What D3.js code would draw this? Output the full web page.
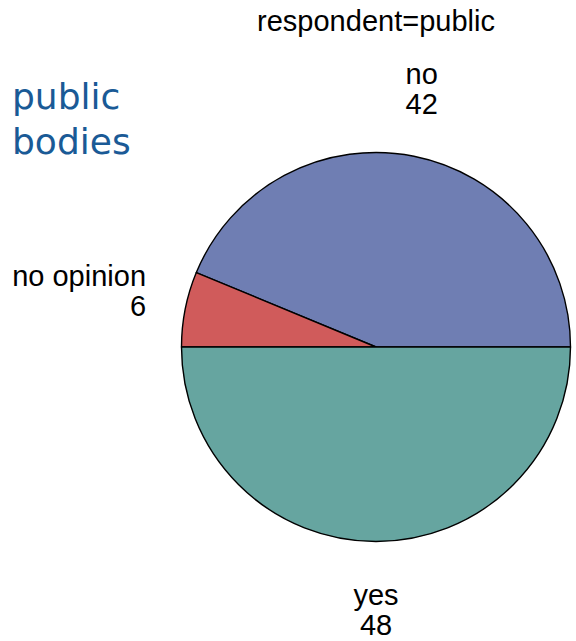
<!DOCTYPE html>
<html lang="en">
<head>
    <meta charset="UTF-8">
    <title>respondent=public</title>
    <script src="https://d3js.org/d3.v7.min.js"></script>
    <style>
        body { margin: 0; background: #fff; }
        svg { display: block; }
        text { font-family: "Liberation Sans", Arial, sans-serif; fill: #000; }
    </style>
</head>
<body>
<svg width="576" height="641"></svg>
<script>
    // chart data
    const categories = ["no", "no opinion", "yes"];
    const counts = [42, 6, 48];
    const sliceColors = ["#6F7EB3", "#D05B5B", "#66A5A0"];
    const titleText = "respondent=public";
    const sideLabel = ["public", "bodies"];

    let svg = d3.select("svg");
    let cx = 376, cy = 347, radius = 194.5;

    // SAS starts at 3 o'clock and goes counter-clockwise
    let pie = d3.pie()
        .sort(null)
        .startAngle(Math.PI / 2)
        .endAngle(Math.PI / 2 - 2 * Math.PI);

    let arcs = pie(counts).map(function (d, i) {
        d.category = categories[i];
        return d;
    });

    let arc = d3.arc().innerRadius(0).outerRadius(radius);
    let labelArc = d3.arc().innerRadius(radius + 40).outerRadius(radius + 40);

    let g = svg.append("g").attr("transform", "translate(" + cx + "," + cy + ")");

    g.selectAll("path")
        .data(arcs)
        .enter()
        .append("path")
        .attr("d", arc)
        .attr("fill", function (d, i) { return sliceColors[i]; })
        .attr("stroke", "#000")
        .attr("stroke-width", 1.4)
        .attr("stroke-linejoin", "round");

    // slice labels: name on first line, count below
    let lineH = 30;
    let labels = g.selectAll("g.lbl")
        .data(arcs)
        .enter()
        .append("g")
        .attr("class", "lbl");

    labels.each(function (d) {
        let p = labelArc.centroid(d);
        let mid = (d.startAngle + d.endAngle) / 2;
        let sx = Math.sin(mid), sy = -Math.cos(mid);
        let anchor = "middle", x = p[0], firstBase;
        if (Math.abs(sx) > 0.7) {
            anchor = sx < 0 ? "end" : "start";
            firstBase = p[1] - 15;
        } else if (sy < 0) {
            firstBase = p[1] - 3 - lineH;
        } else {
            firstBase = p[1] + 23;
        }
        let t = d3.select(this).append("text")
            .attr("text-anchor", anchor)
            .style("font-size", "29px");
        t.append("tspan").attr("x", x).attr("y", firstBase).text(d.category);
        t.append("tspan").attr("x", x).attr("y", firstBase + lineH).text(d.data);
    });

    svg.append("text")
        .attr("x", cx)
        .attr("y", 31)
        .attr("text-anchor", "middle")
        .style("font-size", "29px")
        .text(titleText);

    svg.append("text")
        .style("font-family", "'DejaVu Sans', Verdana, sans-serif")
        .style("font-size", "36px")
        .style("fill", "#1A5A96")
        .selectAll("tspan")
        .data(sideLabel)
        .enter()
        .append("tspan")
        .attr("x", 12)
        .attr("y", function (d, i) { return 109 + i * 45; })
        .text(function (d) { return d; });
</script>
</body>
</html>
